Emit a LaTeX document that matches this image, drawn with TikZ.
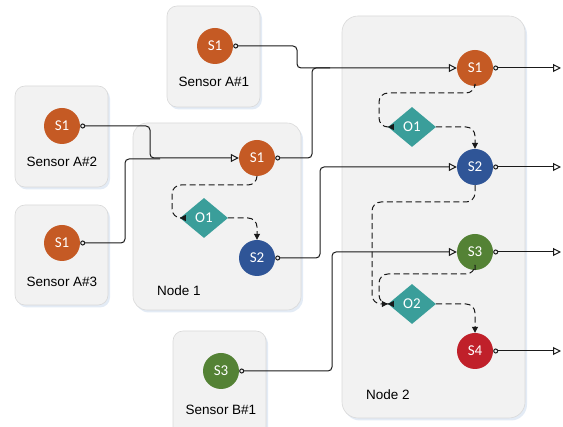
\documentclass[tikz,border=0pt]{standalone}
\usepackage{fontspec}
\setmainfont{Liberation Sans}
\newfontfamily\calfont{Carlito}
\usetikzlibrary{arrows.meta,shapes.geometric}
\definecolor{boxfill}{HTML}{F2F2F2}
\definecolor{boxline}{HTML}{D9D9D9}
\definecolor{shadowc}{HTML}{E3EBF5}
\definecolor{sone}{HTML}{C55A24}
\definecolor{stwo}{HTML}{2F5597}
\definecolor{sthree}{HTML}{548235}
\definecolor{sfour}{HTML}{C0202A}
\definecolor{opc}{HTML}{3A9E9A}
\definecolor{linec}{HTML}{1A1A1A}
\tikzset{
  panel/.style={draw=boxline, fill=boxfill, line width=0.6pt, rounded corners=#1},
  panel/.default=10pt,
  shade/.style={fill=shadowc, rounded corners=#1},
  shade/.default=10pt,
  sensor/.style={circle, minimum size=36pt, inner sep=0pt, fill=#1, text=white, font=\calfont\fontsize{15}{15}\selectfont},
  opnode/.style={diamond, aspect=1.2, minimum width=48pt, minimum height=40pt, inner sep=0pt, fill=opc, text=white, font=\calfont\fontsize{15}{15}\selectfont},
  lbl/.style={font=\fontsize{13.5}{14}\selectfont, text=black},
  wire/.style={draw=linec, line width=1pt, rounded corners=4pt, {Circle[open,length=5pt,width=5pt]}-{Triangle[open,length=8pt,width=8pt]}},
  wireplain/.style={draw=linec, line width=1pt, rounded corners=4pt, {Circle[open,length=5pt,width=5pt]}-},
  flow/.style={draw=black!90, line width=1pt, dash pattern=on 6pt off 3.5pt, rounded corners=9pt, -{Triangle[length=6pt,width=6pt]}},
}
\begin{document}
\begin{tikzpicture}[x=1pt,y=-1pt]
\useasboundingbox (0,0) rectangle (563,427);
% panels
\fill[shade] (169,8.5) rectangle (262,109.5);
\draw[panel] (167,6) rectangle (260,107);
\fill[shade] (17,88.5) rectangle (110,189.5);
\draw[panel] (15,86) rectangle (108,187);
\fill[shade] (17,207.5) rectangle (110,307.5);
\draw[panel] (15,205) rectangle (108,305);
\fill[shade=14pt] (135,125.5) rectangle (303,312.5);
\draw[panel=14pt] (133,123) rectangle (301,310);
\fill[shade=16pt] (344,18.5) rectangle (527,420.5);
\draw[panel=16pt] (342,16) rectangle (525,418);
\fill[shade] (175,333.5) rectangle (268,440);
\draw[panel] (173,331) rectangle (266,440);
% labels
\node[lbl] (la1) at (214,82) {Sensor A\#1};
\node[lbl] (la2) at (62,162) {Sensor A\#2};
\node[lbl] (la3) at (62,282) {Sensor A\#3};
\node[lbl] (ln1) at (179,291) {Node 1};
\node[lbl] (ln2) at (388,395) {Node 2};
\node[lbl] (lb1) at (221,410) {Sensor B\#1};
% sensors
\node[sensor=sone] (a1) at (215,46) {S1};
\node[sensor=sone] (a2) at (62,126) {S1};
\node[sensor=sone] (a3) at (62,243) {S1};
\node[sensor=sthree] (b1) at (221,371) {S3};
% node 1
\node[sensor=sone] (n1s1) at (257,158) {S1};
\node[opnode] (n1o1) at (204,218) {O1};
\node[sensor=stwo] (n1s2) at (257,258) {S2};
% node 2
\node[sensor=sone] (n2s1) at (475,68) {S1};
\node[opnode] (n2o1) at (412,127) {O1};
\node[sensor=stwo] (n2s2) at (475,167) {S2};
\node[sensor=sthree] (n2s3) at (475,252) {S3};
\node[opnode] (n2o2) at (412,304) {O2};
\node[sensor=sfour] (n2s4) at (475,351) {S4};
% output ends
\coordinate (o1) at (561,68);
\coordinate (o2) at (561,167);
\coordinate (o3) at (561,252);
\coordinate (o4) at (561,351);
% wires
\draw[wire] (a1.east) -- (297,46) -- (297,68) -- (n2s1.west);
\draw[wireplain] (n1s1.east) -- (312,158) -- (312,68) -- (330,68);
\draw[wire] (a2.east) -- (150,126) -- (150,158) -- (n1s1.west);
\draw[wireplain] (a3.east) -- (125,243) -- (125,159) -- (160,159);
\draw[wire] (n1s2.east) -- (320,258) -- (320,167) -- (n2s2.west);
\draw[wire] (b1.east) -- (332,371) -- (332,252) -- (n2s3.west);
\draw[wire] (n2s1.east) -- (o1);
\draw[wire] (n2s2.east) -- (o2);
\draw[wire] (n2s3.east) -- (o3);
\draw[wire] (n2s4.east) -- (o4);
% flows
\draw[flow] (n1s1.south) -- (257,185) -- (172,185) -- (172,218) -- (n1o1.west);
\draw[flow] (n1o1.east) -- (257,218) -- (n1s2.north);
\draw[flow] (n2s1.south) -- (475,93) -- (379,93) -- (379,127) -- (n2o1.west);
\draw[flow] (n2o1.east) -- (475,127) -- (n2s2.north);
\draw[flow] (n2s2.south) -- (475,202) -- (372,202) -- (372,304) -- (n2o2.west);
\draw[flow] (n2s3.south) -- (475,274) -- (379,274) -- (379,304) -- (n2o2.west);
\draw[flow] (n2o2.east) -- (475,304) -- (n2s4.north);
\end{tikzpicture}
\end{document}
